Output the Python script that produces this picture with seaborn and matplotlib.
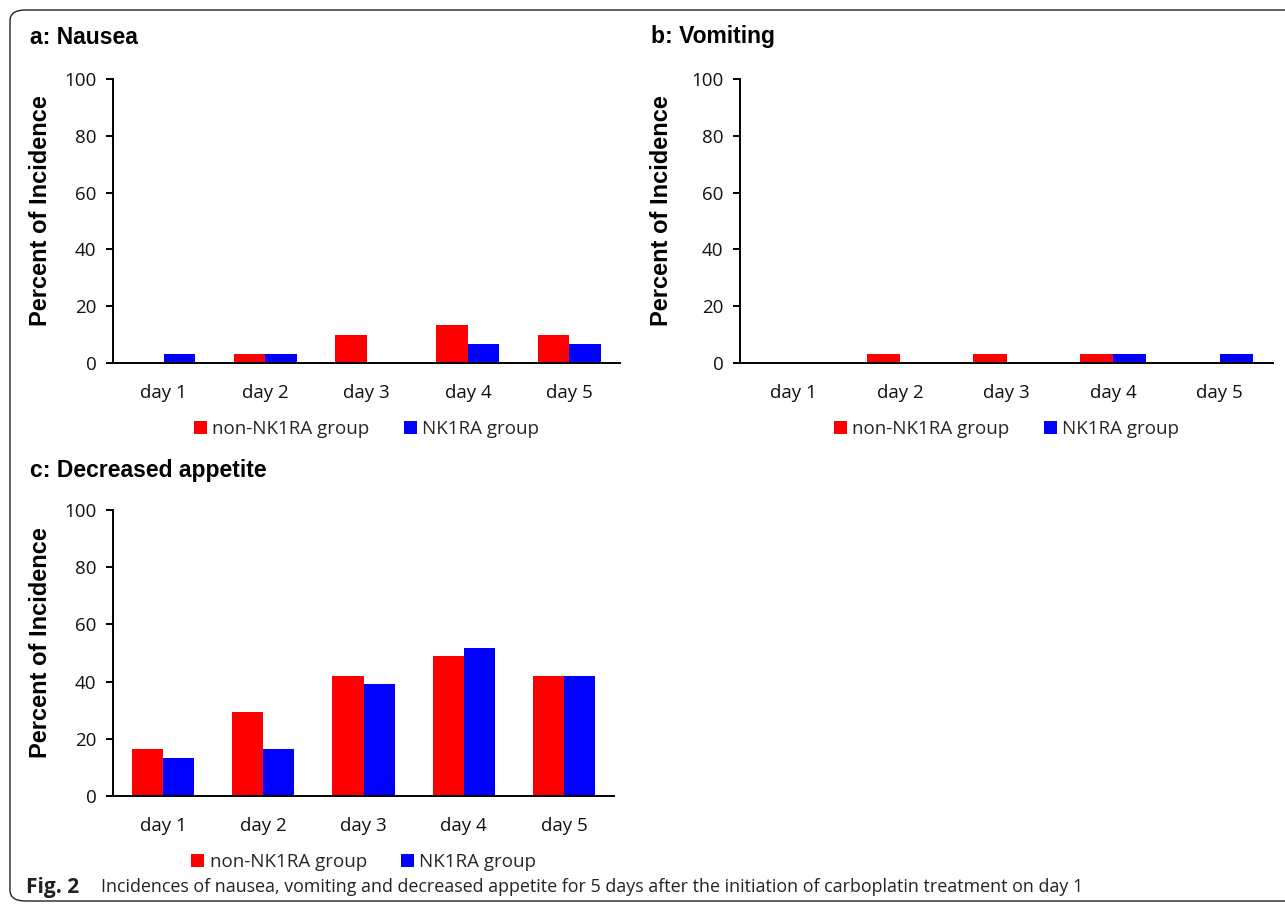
import pandas as pd
import matplotlib
matplotlib.use("Agg")
import matplotlib.pyplot as plt
from matplotlib.patches import FancyBboxPatch
import seaborn as sns

days = ["day 1", "day 2", "day 3", "day 4", "day 5"]
groups = ["non-NK1RA group", "NK1RA group"]

nausea_non = [0, 3.3, 10.0, 13.3, 10.0]
nausea_nk = [3.3, 3.3, 0, 6.7, 6.7]
vomit_non = [0, 3.3, 3.3, 3.3, 0]
vomit_nk = [0, 0, 0, 3.3, 3.3]
appetite_non = [16.3, 29.2, 42.1, 48.8, 42.1]
appetite_nk = [13.2, 16.3, 39.0, 51.8, 42.1]

panels = [
    ("a: Nausea", nausea_non, nausea_nk),
    ("b: Vomiting", vomit_non, vomit_nk),
    ("c: Decreased appetite", appetite_non, appetite_nk),
]

sns.set_theme(style="white")
plt.rcParams['font.family'] = ['Lato', 'DejaVu Sans']

W, H = 1285, 908
fig = plt.figure(figsize=(W / 100, H / 100), dpi=100)

# outer rounded frame
frame = FancyBboxPatch((10 / W, 1 - 901 / H), 1300 / W, 891 / H,
                       boxstyle="round,pad=0,rounding_size=0.012",
                       transform=fig.transFigure, fill=False,
                       edgecolor="#222222", linewidth=1.0)
fig.patches.append(frame)

# axes boxes in pixels: left, top(100), right, bottom(0)
boxes = [(113, 79, 620, 363), (740, 79, 1273, 363), (113, 510, 614, 796)]
title_pos = [(30, 37), (651, 37), (30, 471)]
ylabel_x = [40, 662, 40]

for (title, non, nk), (l, t, r, b), (tx, ty), yx in zip(panels, boxes, title_pos, ylabel_x):
    ax = fig.add_axes([l / W, 1 - b / H, (r - l) / W, (b - t) / H])
    df = pd.DataFrame({
        "day": days * 2,
        "group": [groups[0]] * len(days) + [groups[1]] * len(days),
        "pct": non + nk,
    })
    sns.barplot(data=df, x="day", y="pct", hue="group", ax=ax,
                palette=["#ff0000", "#0000ff"], saturation=1, width=0.62,
                linewidth=0, errorbar=None)
    ax.set_ylim(0, 100)
    ax.set_xlim(-0.5, 4.5)
    ax.set_yticks(range(0, 101, 20))
    ax.set_xlabel("")
    ax.set_ylabel("Percent of Incidence", fontsize=17, fontweight="bold",
                  family=["Liberation Sans"], color="black", va="center")
    ax.yaxis.set_label_coords((yx - l) / (r - l), 0.5 + 10 / (b - t))
    sns.despine(ax=ax)
    for s in ["left", "bottom"]:
        ax.spines[s].set_color("black")
        ax.spines[s].set_linewidth(1.4)
    ax.tick_params(axis="y", left=True, length=5, width=1.4, color="black",
                   labelsize=13.5, pad=7)
    ax.tick_params(axis="x", bottom=False, labelsize=13.5, pad=9)
    for lab in ax.get_xticklabels() + ax.get_yticklabels():
        lab.set_family(["Open Sans", "DejaVu Sans"])
        lab.set_color("#111111")
    ax.legend(loc="upper center", bbox_to_anchor=(0.5, -0.14), ncol=2,
              frameon=False, handlelength=0.7, handleheight=0.7,
              handletextpad=0.3, columnspacing=1.8,
              prop={"family": "Open Sans", "size": 13.5})
    fig.text(tx / W, 1 - ty / H, title, fontsize=16.5, fontweight="bold",
             family=["Liberation Sans"], va="center", ha="left", color="black")

fig.text(26 / W, 1 - 887 / H, "Fig. 2", fontsize=15, fontweight="bold",
         family=["Open Sans"], va="center", ha="left", color="#222222")
fig.text(101 / W, 1 - 887 / H,
         "Incidences of nausea, vomiting and decreased appetite for 5 days after the "
         "initiation of carboplatin treatment on day 1",
         fontsize=12.9, family=["Open Sans"], va="center", ha="left",
         color="#222222")

fig.savefig("out.png", dpi=100)
